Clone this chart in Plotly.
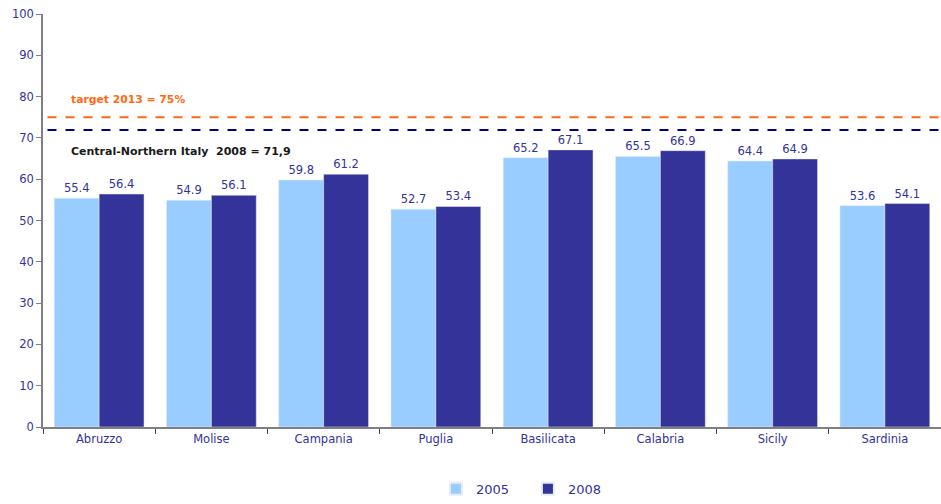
import plotly.graph_objects as go

regions = ["Abruzzo", "Molise", "Campania", "Puglia", "Basilicata", "Calabria", "Sicily", "Sardinia"]
rate_2005 = [55.4, 54.9, 59.8, 52.7, 65.2, 65.5, 64.4, 53.6]
rate_2008 = [56.4, 56.1, 61.2, 53.4, 67.1, 66.9, 64.9, 54.1]
target_2013 = 75
centre_north_2008 = 71.9

FONT = "DejaVu Sans"
TXT = "#333399"

fig = go.Figure()
fig.add_trace(go.Bar(
    name="2005", x=regions, y=rate_2005, marker_color="#99CCFF",
    text=[f"{v:.1f}" for v in rate_2005], textposition="outside",
    textfont=dict(family=FONT, size=11.5, color=TXT), cliponaxis=False,
))
fig.add_trace(go.Bar(
    name="2008", x=regions, y=rate_2008, marker_color="#333399",
    text=[f"{v:.1f}" for v in rate_2008], textposition="outside",
    textfont=dict(family=FONT, size=11.5, color=TXT), cliponaxis=False,
))

# reference lines
fig.add_shape(type="line", xref="paper", yref="y", x0=0.005, x1=1, y0=target_2013, y1=target_2013,
              line=dict(color="#FF6A13", width=2, dash="dash"))
fig.add_shape(type="line", xref="paper", yref="y", x0=0.005, x1=1, y0=centre_north_2008, y1=centre_north_2008,
              line=dict(color="#000080", width=2, dash="dash"))

fig.add_annotation(xref="paper", yref="y", x=0.029, y=79.2, xanchor="left", yanchor="middle",
                   text=f"<b>target 2013 = {target_2013}%</b>", showarrow=False,
                   font=dict(family=FONT, size=10.8, color="#FF6A13"))
fig.add_annotation(xref="paper", yref="y", x=0.029, y=66.8, xanchor="left", yanchor="middle",
                   text="<b>Central-Northern Italy  2008 = " + f"{centre_north_2008}".replace(".", ",") + "</b>",
                   showarrow=False, font=dict(family=FONT, size=11, color="#1a1a1a"))

fig.update_layout(
    width=941, height=504,
    margin=dict(l=43, r=0, t=14, b=77),
    plot_bgcolor="white", paper_bgcolor="white",
    barmode="group", bargap=0.2, bargroupgap=0,
    font=dict(family=FONT, size=11.5, color=TXT),
    showlegend=True,
    legend=dict(orientation="h", x=0.54, xanchor="center", y=-0.186, yanchor="bottom",
                font=dict(family=FONT, size=13, color=TXT), itemsizing="constant",
                traceorder="normal", itemwidth=30, entrywidth=47, entrywidthmode="pixels"),
)
fig.update_yaxes(range=[0, 100], dtick=10, showgrid=False, zeroline=False,
                 showline=True, linecolor="#808080", linewidth=1.5,
                 ticks="outside", ticklen=5, tickcolor="#808080",
                 tickfont=dict(family=FONT, size=11.5, color=TXT))
fig.update_xaxes(showgrid=False, showline=True, linecolor="#808080", linewidth=1.5,
                 ticks="outside", ticklen=5, tickcolor="#404040", tickson="boundaries",
                 tickfont=dict(family=FONT, size=11.5, color=TXT))

fig.write_html("out.html")
